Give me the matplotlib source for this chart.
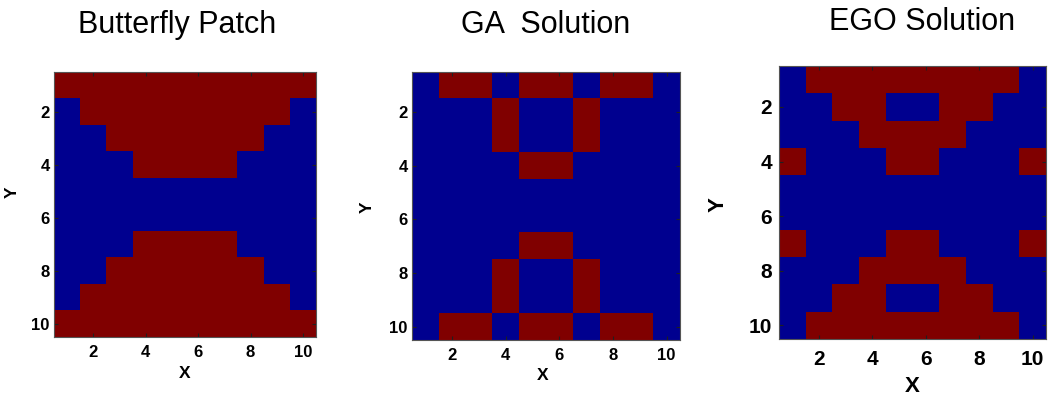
import matplotlib
matplotlib.use("Agg")
import matplotlib.pyplot as plt
import numpy as np
from matplotlib.colors import ListedColormap

# 1 = patch material (red), 0 = void (blue); rows are Y = 1..10, cols are X = 1..10
butterfly = [
    [1, 1, 1, 1, 1, 1, 1, 1, 1, 1],
    [0, 1, 1, 1, 1, 1, 1, 1, 1, 0],
    [0, 0, 1, 1, 1, 1, 1, 1, 0, 0],
    [0, 0, 0, 1, 1, 1, 1, 0, 0, 0],
    [0, 0, 0, 0, 0, 0, 0, 0, 0, 0],
    [0, 0, 0, 0, 0, 0, 0, 0, 0, 0],
    [0, 0, 0, 1, 1, 1, 1, 0, 0, 0],
    [0, 0, 1, 1, 1, 1, 1, 1, 0, 0],
    [0, 1, 1, 1, 1, 1, 1, 1, 1, 0],
    [1, 1, 1, 1, 1, 1, 1, 1, 1, 1],
]

ga_solution = [
    [0, 1, 1, 0, 1, 1, 0, 1, 1, 0],
    [0, 0, 0, 1, 0, 0, 1, 0, 0, 0],
    [0, 0, 0, 1, 0, 0, 1, 0, 0, 0],
    [0, 0, 0, 0, 1, 1, 0, 0, 0, 0],
    [0, 0, 0, 0, 0, 0, 0, 0, 0, 0],
    [0, 0, 0, 0, 0, 0, 0, 0, 0, 0],
    [0, 0, 0, 0, 1, 1, 0, 0, 0, 0],
    [0, 0, 0, 1, 0, 0, 1, 0, 0, 0],
    [0, 0, 0, 1, 0, 0, 1, 0, 0, 0],
    [0, 1, 1, 0, 1, 1, 0, 1, 1, 0],
]

ego_solution = [
    [0, 1, 1, 1, 1, 1, 1, 1, 1, 0],
    [0, 0, 1, 1, 0, 0, 1, 1, 0, 0],
    [0, 0, 0, 1, 1, 1, 1, 0, 0, 0],
    [1, 0, 0, 0, 1, 1, 0, 0, 0, 1],
    [0, 0, 0, 0, 0, 0, 0, 0, 0, 0],
    [0, 0, 0, 0, 0, 0, 0, 0, 0, 0],
    [1, 0, 0, 0, 1, 1, 0, 0, 0, 1],
    [0, 0, 0, 1, 1, 1, 1, 0, 0, 0],
    [0, 0, 1, 1, 0, 0, 1, 1, 0, 0],
    [0, 1, 1, 1, 1, 1, 1, 1, 1, 0],
]

titles = ["Butterfly Patch", "GA  Solution", "EGO Solution"]
tick_values = [2, 4, 6, 8, 10]

cmap = ListedColormap(["#00008f", "#800000"])

plt.rcParams["font.family"] = ["Liberation Sans", "DejaVu Sans"]

fig = plt.figure(figsize=(10.48, 3.97), dpi=100)
W, H = 1048, 397
# per-panel layout in pixels
boxes = [(54, 72, 316, 337), (412, 72, 680, 340), (779, 66, 1046, 339)]
xlabel_pos = [(185, 373), (543, 375), (912, 386)]
ylabel_pos = [(12, 192), (367, 207), (718, 205)]
title_pos = [(177, 25), (546, 25), (922, 22)]
tick_sizes = [12, 12, 15]
label_sizes = [12.5, 12.5, 16]
xpads = [6, 6, 8]
ypads = [3, 3, 5]

for i, grid in enumerate([butterfly, ga_solution, ego_solution]):
    l, t, r, b = boxes[i]
    w, h = r - l, b - t
    ax = fig.add_axes([l / W, 1 - b / H, w / W, h / H])
    ax.imshow(np.array(grid), cmap=cmap, vmin=0, vmax=1, interpolation="nearest",
              extent=(0.5, 10.5, 10.5, 0.5), aspect="auto")
    ax.set_xticks(tick_values)
    ax.set_yticks(tick_values)
    ax.tick_params(direction="in", length=3, width=0.8, top=True, right=True,
                   labelsize=tick_sizes[i], color="#202020")
    ax.tick_params(axis="x", pad=xpads[i])
    ax.tick_params(axis="y", pad=ypads[i])
    for lab in ax.get_xticklabels() + ax.get_yticklabels():
        lab.set_fontweight("bold")

    ax.set_xlabel("X", fontsize=label_sizes[i], fontweight="bold")
    ax.set_ylabel("Y", fontsize=label_sizes[i], fontweight="bold")
    xl, yl = xlabel_pos[i], ylabel_pos[i]
    ax.xaxis.set_label_coords((xl[0] - l) / w, (b - xl[1]) / h)
    ax.yaxis.set_label_coords((yl[0] - l) / w, (b - yl[1]) / h)
    ax.xaxis.label.set_va("center")
    ax.yaxis.label.set_va("center")

    for sp in ax.spines.values():
        sp.set_color("#555555")
        sp.set_linewidth(0.8)
    tx, ty = title_pos[i]
    fig.text(tx / W, 1 - ty / H, titles[i], ha="center", va="center", fontsize=22)

fig.savefig("out.png", dpi=100)
